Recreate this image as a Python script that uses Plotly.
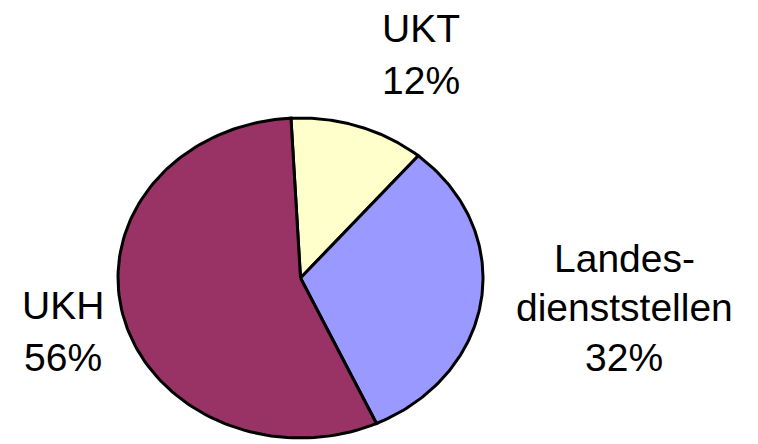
import numpy as np
import plotly.graph_objects as go

# Data
categories = ["UKT", "Landes-<br>dienststellen", "UKH"]
shares = [12, 32, 56]
colors = ["#FFFFCC", "#9999FF", "#993366"]
start_deg = -3.0  # first slice starts slightly left of 12 o'clock, clockwise

# label line centers in page pixel coords: (x center, [y of each line])
label_px = [(421, [29, 80]), (624, [258, 307, 357]), (63, [305, 357])]

W, H = 758, 444
OFF = 8  # default page body margin shifts the figure by 8px
cx, cy, rx, ry = 300.5 - OFF, 278.0 - OFF, 182.5, 160.0

fig = go.Figure()
a = start_deg
for cat, s, col in zip(categories, shares, colors):
    span = s / sum(shares) * 360.0
    t = np.radians(np.linspace(a, a + span, 120))
    xs = np.concatenate([[0], np.sin(t), [0]])
    ys = np.concatenate([[0], np.cos(t), [0]])
    fig.add_trace(go.Scatter(x=xs, y=ys, mode="lines", fill="toself",
                             fillcolor=col, line=dict(color="black", width=3),
                             hoverinfo="skip", showlegend=False))
    a += span

for cat, s, (px, ys_) in zip(categories, shares, label_px):
    lines = cat.split("<br>") + [f"{s}%"]
    for line, py in zip(lines, ys_):
        fig.add_annotation(text=line, xref="paper", yref="paper",
                           x=(px - OFF) / W, y=1 - (py - OFF) / H,
                           xanchor="center", yanchor="middle",
                           showarrow=False, align="center",
                           font=dict(family="Liberation Sans, Arial", size=39, color="black"))

fig.update_xaxes(range=[-cx / rx, (W - cx) / rx], visible=False, fixedrange=True)
fig.update_yaxes(range=[-(H - cy) / ry, cy / ry], visible=False, fixedrange=True)
fig.update_layout(width=W, height=H, margin=dict(l=0, r=0, t=0, b=0),
                  plot_bgcolor="white", paper_bgcolor="white", showlegend=False)
fig.write_html("out.html")
